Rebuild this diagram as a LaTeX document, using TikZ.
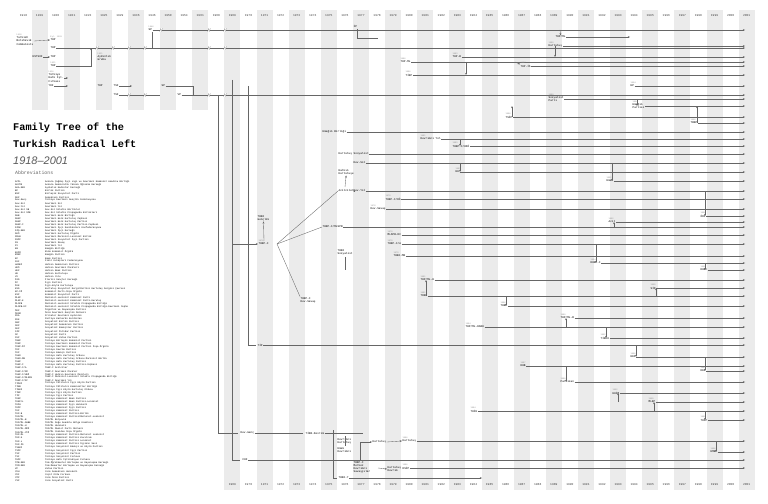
\documentclass[tikz,border=0pt]{standalone}
\usepackage{fontspec}
\setmainfont{Liberation Sans}
\setmonofont{Liberation Mono}
\usetikzlibrary{arrows.meta,positioning}

\definecolor{stripe}{gray}{0.92}
\definecolor{linecol}{gray}{0.40}
\definecolor{datecol}{gray}{0.55}

\newcommand{\yrfont}{\ttfamily\fontsize{3}{3}\selectfont}
\newcommand{\orgfont}{\ttfamily\fontsize{2.8}{3.1}\selectfont}
\newcommand{\datefont}{\ttfamily\fontsize{2.1}{2.2}\selectfont}
\newcommand{\abfont}{\ttfamily\fontsize{2.35}{2.4}\selectfont}

\tikzset{
  yr/.style={font=\yrfont, text=black!75, inner sep=0pt},
  org/.style={font=\orgfont, anchor=west, inner sep=0.4pt, align=left},
  dt/.style={font=\datefont, text=datecol, anchor=south west, inner sep=0.3pt},
  ln/.style={draw=linecol, line width=0.35pt},
  to/.style={ln, -{Stealth[length=2.2pt,width=1.8pt]}},
  ab/.style={font=\abfont, anchor=west, inner sep=0pt},
  brk/.pic={\fill[white] (-1.1,-1.8) rectangle (1.1,1.8);
    \draw[linecol, line width=0.3pt] (-1.3,1.6) -- (-0.2,-1.6) (0.2,1.6) -- (1.3,-1.6);}
}

\begin{document}
\begin{tikzpicture}[x=1bp,y=-1bp]
\useasboundingbox (0,0) rectangle (768,504);

% grey year columns
\foreach \i in {1,3,...,11}
  \fill[stripe] ({15.5+16.07*\i},10) rectangle +(16.07,100);
\foreach \i in {13,15,...,45}
  \fill[stripe] ({15.5+16.07*\i},10) rectangle +(16.07,480);

% years
\foreach \yr [count=\i from 0] in {1918,1919,1920,1921,1922,1925,1929,1936,1946,1950,1954,1961,1968,1969,1970,...,2001}
  \node[yr] at ({23.5+16.07*\i},16) {\yr};
\foreach \yr [count=\i from 13] in {1969,1970,...,2001}
  \node[yr] at ({23.5+16.07*\i},485) {\yr};

% title
\node[anchor=west, inner sep=0pt, font=\ttfamily\bfseries\fontsize{10.3}{12}\selectfont] (title1) at (13,128) {Family Tree of the};
\node[anchor=west, inner sep=0pt, font=\ttfamily\bfseries\fontsize{10.3}{12}\selectfont] (title2) at (13,144) {Turkish Radical Left};
\node[anchor=west, inner sep=0pt, font=\itshape\fontsize{11}{12}\selectfont, text=black!65] (title3) at (13,161) {1918--2001};
\node[anchor=west, inner sep=0pt, font=\ttfamily\fontsize{4.9}{5}\selectfont, text=black!60] (abbr) at (15,173) {Abbreviations};

% abbreviations
\foreach \a/\f [count=\k from 0] in {
 {ACİL}/{Ankara Çağdaş İşçi Ligi ve Devrimci Komünist Anadolu Birliği},
 {ADYÖD}/{Ankara Demokratik Yüksek Öğrenim Derneği},
 {AKA-DER}/{Aydınlık Kadınlar Derneği},
 {BP}/{Birlik Partisi},
 {BSP}/{Birleşik Sosyalist Parti},
 {DEP}/{Demokrasi Partisi},
 {Dev-Genç}/{Türkiye Devrimci Gençlik Federasyonu},
 {Dev-Sol}/{Devrimci Sol},
 {Dev-Yol}/{Devrimci Yol},
 {Dev-Sol SB}/{Dev-Sol Silahlı Birlikler},
 {Dev-Sol SPB}/{Dev-Sol Silahlı Propaganda Birlikleri},
 {DHB}/{Devrimci Halk Birliği},
 {DHKC}/{Devrimci Halk Kurtuluş Cephesi},
 {DHKP}/{Devrimci Halk Kurtuluş Partisi},
 {DHKP-C}/{Devrimci Halk Kurtuluş Partisi-Cephesi},
 {DİSK}/{Devrimci İşçi Sendikaları Konfederasyonu},
 {DİŞ-DER}/{Devrimci İşçi Derneği},
 {DKÖ}/{Devrimci Kurtuluş Örgütü},
 {DMLB}/{Devrimci Marksist-Leninist Birlik},
 {DSİP}/{Devrimci Sosyalist İşçi Partisi},
 {DS}/{Devrimci Savaş},
 {DY}/{Devrimci Yol},
 {EB}/{Emeğin Birliği},
 {EKİM}/{Ekim Komünist Örgütü},
 {EMEP}/{Emeğin Partisi},
 {EP}/{Emek Partisi},
 {FKF}/{Fikir Kulüpleri Federasyonu},
 {HADEP}/{Halkın Demokrasi Partisi},
 {HDÖ}/{Halkın Devrimci Öncüleri},
 {HEP}/{Halkın Emek Partisi},
 {HK}/{Halkın Kurtuluşu},
 {HY}/{Halkın Yolu},
 {İGD}/{İlerici Gençler Derneği},
 {İP}/{İşçi Partisi},
 {İKK}/{İşçi-Köylü Kurtuluşu},
 {KSD}/{Kurtuluş Sosyalist Dergi/Partisi Kurtuluş Dergisi Çevresi},
 {KP-İÖ}/{Komünist Parti-İnşa Örgütü},
 {KSP}/{Komünist Sosyalist Parti},
 {MLKP}/{Marksist-Leninist Komünist Parti},
 {MLKP-K}/{Marksist-Leninist Komünist Parti-Kuruluş},
 {MLSPB}/{Marksist-Leninist Silahlı Propaganda Birliği},
 {MLSPB-DC}/{Marksist-Leninist Silahlı Propaganda Birliği-Devrimci Cephe},
 {ÖDP}/{Özgürlük ve Dayanışma Partisi},
 {ÖDGM}/{Öncü Devrimci Gençlik Merkezi},
 {PDA}/{Proleter Devrimci Aydınlık},
 {PKK}/{Partiya Karkerên Kurdistan},
 {SBP}/{Sosyalist Birlik Partisi},
 {SDP}/{Sosyalist Demokrasi Partisi},
 {SEP}/{Sosyalist Emekçiler Partisi},
 {SİP}/{Sosyalist İktidar Partisi},
 {SP}/{Sosyalist Parti},
 {SVP}/{Sosyalist Vatan Partisi},
 {TBKP}/{Türkiye Birleşik Komünist Partisi},
 {TDKP}/{Türkiye Devrimci Komünist Partisi},
 {TDKP-İÖ}/{Türkiye Devrimci Komünist Partisi İnşa Örgütü},
 {TDP}/{Türkiye Devrim Partisi},
 {TEP}/{Türkiye Emekçi Partisi},
 {THKO}/{Türkiye Halk Kurtuluş Ordusu},
 {THKO-MB}/{Türkiye Halk Kurtuluş Ordusu Marksist Birlik},
 {THKP}/{Türkiye Halk Kurtuluş Partisi},
 {THKP-C}/{Türkiye Halk Kurtuluş Partisi-Cephesi},
 {THKP-C/A}/{THKP-C Acilciler},
 {THKP-C/DÖ}/{THKP-C Devrimci Öncüler},
 {THKP-C/HDÖ}/{THKP-C Halkın Devrimci Öncüleri},
 {THKP-C/MLSPB}/{THKP-C Marksist-Leninist Silahlı Propaganda Birliği},
 {THKP-C/DY}/{THKP-C Devrimci Yol},
 {TİİKP}/{Türkiye İhtilalci İşçi Köylü Partisi},
 {TİKB}/{Türkiye İhtilalci Komünistler Birliği},
 {TİKKO}/{Türkiye İşçi Köylü Kurtuluş Ordusu},
 {TİKP}/{Türkiye İşçi Köylü Partisi},
 {TİP}/{Türkiye İşçi Partisi},
 {TKEP}/{Türkiye Komünist Emek Partisi},
 {TKEP/L}/{Türkiye Komünist Emek Partisi-Leninist},
 {TKİH}/{Türkiye Komünist İşçi Hareketi},
 {TKİP}/{Türkiye Komünist İşçi Partisi},
 {TKP}/{Türkiye Komünist Partisi},
 {TKP-B}/{Türkiye Komünist Partisi-Birlik},
 {TKP/ML}/{Türkiye Komünist Partisi/Marksist-Leninist},
 {TKP/ML-B}/{TKP/ML Bolşevik},
 {TKP/ML-DABK}/{TKP/ML Doğu Anadolu Bölge Komitesi},
 {TKP/ML-H}/{TKP/ML Hareketi},
 {TKP/ML-MPM}/{TKP/ML Maoist Parti Merkezi},
 {TKP/ML-YİÖ}/{TKP/ML Yeniden İnşa Örgütü},
 {TKP-ML}/{Türkiye Komünist Partisi-Marksist Leninist},
 {TKP-K}/{Türkiye Komünist Partisi Kıvılcım},
 {TKP-L}/{Türkiye Komünist Partisi Leninist},
 {TKP-İS}/{Türkiye Komünist Partisi İşçinin Sesi},
 {TSEKP}/{Türkiye Sosyalist Emekçi ve Köylü Partisi},
 {TSİP}/{Türkiye Sosyalist İşçi Partisi},
 {TSP}/{Türkiye Sosyalist Partisi},
 {TSF}/{Türkiye Sosyalist Fırkası},
 {THİF}/{Türkiye Halk İştirakiyun Fırkası},
 {TÖB-DER}/{Tüm Öğretmenler Birleşme ve Dayanışma Derneği},
 {TÜM-DER}/{Tüm Memurlar Birleşme ve Dayanışma Derneği},
 {VP}/{Vatan Partisi},
 {YDH}/{Yeni Demokrasi Hareketi},
 {YDF}/{Yeşil Ordu Fırkası},
 {YÖP}/{Yeni Öncü Partisi},
 {YSP}/{Yeni Sosyalist Parti}}
{
  \node[ab] at (15,{182+3.05*\k}) {\a};
  \node[ab] at (45,{182+3.05*\k}) {\f};
}

% ---- early years ----
\node[org] (turk) at (16,41) {Turkish\\Bolshevik\\Communists};
\node[dt] at (turk.north west) {1918};
\node[org] (tkpa) at (50,40) {TKP};
\node[dt] at (tkpa.north west) {Eyl. 1920};
\draw[to] (turk.east) -- (tkpa.west);
\node[org] (tkpb) at (50,48) {TKP};
\node[org] (estsof) at (32,57) {ESTSOF};
\node[org] (tkpc) at (50,57) {TKP};
\draw[to] (estsof) -- (tkpc);
\node[org] (tkpd) at (50,66) {TKP};
\node[dt] at (tkpd.north west) {1921};
\coordinate (tkpj) at (91,48);
\draw[to] (tkpd.east) -- (91,66) -- (tkpj);
\draw[to] (tkpb.east) -- (745,48);
\foreach \x in {97,113,129,145,209,225} \pic at (\x,48) {brk};
\node[org] (aydin) at (97,58) {Aydınlık\\Grubu};
\node[dt] at (aydin.north west) {1921};
\node[org] (tsp) at (148,30) {SP};
\node[dt] at (tsp.north west) {1946};
\draw[to] (tsp.east) -- (745,30);
\draw[ln] (152,32) -- (152,48);
\foreach \x in {161,209,225} \pic at (\x,30) {brk};

\node[org] (thif) at (48,78) {Türkiye\\Halk İşt.\\Fırkası};
\node[dt] at (thif.north west) {1920};
\draw[to] (thif.east) -- (68,78);
\node[org] (ydf) at (48,86) {YDF};
\draw[to] (ydf.east) -- (68,86);
\node[org] (tkpe) at (97,86) {TKP};
\node[org] (tsf) at (113,86) {TSF};
\draw[to] (tsf.east) -- (132,86);
\node[org] (tsf2) at (113,95) {TSF};
\draw[ln] (tsf2.east) -- (160,95);
\foreach \x in {129,145} \pic at (\x,95) {brk};
\node[org] (sp46) at (161,86) {SP};
\draw[ln] (sp46.east) -- (193,86) -- (193,95);
\node[org] (vp) at (177,95) {VP};
\draw[to] (vp.east) -- (745,95);
\foreach \x in {209,225} \pic at (\x,95) {brk};

% ---- 1960s trunk ----
\draw[ln] (218,95) -- (218,433) -- (238,433);
\draw[ln] (232,80) -- (232,460) -- (240,460);
\draw[ln] (248,86) -- (248,345) -- (256,345);
\node[org] (tip) at (257,345) {TİP};
\draw[to] (tip.east) -- (745,345);
\node[org] (dgenc) at (240,433) {Dev-Genç};
\draw[ln] (dgenc.east) -- (303,433);
\node[org] (tikb) at (305,433) {TİKB-Devrim};
\draw[ln] (tikb.east) -- (363,433);
\node[org] (fkf) at (242,460) {FKF};
\draw[to] (fkf.east) -- (745,460);

\node[org] (thkpc) at (258,244) {THKP-C};
\node[dt] at (thkpc.north west) {1970};
\draw[to] (232,244) -- (thkpc.west);
\node[org] (thko) at (257,218) {THKO\\Gençlik};
\draw[to] (264,241) -- (thko.south);
\coordinate (fan) at (277,244);
\node[org] (acil) at (338,191) {Acilciler};
\node[org] (mlspb) at (322,227) {THKP-C/MLSPB};
\node[org] (dsav) at (300,300) {THKP-C\\Dev-Savaş};
\draw[ln] (fan) -- (acil.west);
\draw[ln] (fan) -- (mlspb.west);
\draw[ln] (fan) -- (dsav.north west);
\draw[to] (mlspb.east) -- (745,227);
\node[org] (dyol) at (353,191) {Dev-Yol};
\draw[to] (acil) -- (dyol);
\draw[to] (dyol.east) -- (745,191);
\node[org] (hk) at (338,172) {Halkın\\Kurtuluşu};
\draw[to] (345,187) -- (hk.south);
\node[org] (ks) at (338,154) {Kurtuluş Sosyalist};
\draw[to] (ks.east) -- (745,154);
\node[org] (dsol) at (353,163) {Dev-Sol};
\draw[to] (dsol.east) -- (745,163);
\node[org] (emek) at (322,132) {Emeğin Birliği};
\draw[to] (emek.east) -- (745,132);
\node[org] (thkos) at (337,252) {THKO\\Sosyalist};
\draw[ln] (345,257) -- (345,270);

% ---- 1975-2001 ----
\foreach \n/\x/\y/\t/\d in {
  tkpml/400/62/{TKP-ML}/1980,
  kurt/548/46/{Kurtuluş}/1989,
  tkpbb/452/57/{TKP-B}/1983,
  tkpis/520/66/{TKP-İS}/1987,
  tikp/405/75/{TİKP}/1980,
  ep/630/86/{EP}/1994,
  sparti/548/99/{Sosyalist\\Parti}/1989,
  emp/632/106/{Emeğin\\Partisi}/1994,
  tsip/505/117/{TSİP}/1986,
  tbkp/690/123/{TBKP}/1998,
  dy/420/139/{Devrimci Yol}/1981,
  hdo/452/146/{THKP-C/HDÖ}/1983,
  hkb/455/172/{HK}/1983,
  emk/606/181/{Emek}/1992,
  do/385/199/{THKP-C/DÖ}/1979,
  dsv/370/209/{Dev-Savaş}/1978,
  odp/700/216/{ÖDP}/1996,
  acl/608/222/{Acil}/1992,
  dc/387/235/{MLSPB-DC}/1979,
  thka/387/244/{THKP-C/A}/1979,
  thkomb/393/256/{THKO-MB}/1979,
  dhkpc/590/263/{DHKP-C}/1994,
  dhkc/700/270/{DHKC}/1998,
  mlh/420/280/{TKP/ML-H}/1981,
  sip/650/288/{SİP}/1995,
  tdkp/420/296/{TDKP}/1981,
  tkep/500/306/{TKEP}/1986,
  mlb/560/318/{TKP/ML-B}/1989,
  dabk/465/327/{TKP/ML-DABK}/1984,
  tikko/600/338/{TİKKO}/1992,
  hep/630/357/{HEP}/1990,
  dhb/520/366/{DHB}/1987,
  dep/700/371/{DEP}/1993,
  part/560/382/{Partizan}/1989,
  ekim/612/393/{EKİM}/1992,
  mlkp/648/402/{MLKP}/1995,
  tkih/470/411/{TKİH}/1984,
  tkip/700/420/{TKİP}/1998,
  kurtb/402/441/{Kurtuluş}/1980,
  emep/710/452/{EMEP}/1996,
  dsip/402/468/{DSİP}/1980}
{
  \node[org] (\n) at (\x,\y) {\t};
  \node[dt] at (\n.north west) {\d};
  \draw[to] (\n.east) -- (745,\y);
}

% smaller pieces
\node[org] (ip) at (353,26) {İP};
\draw[ln] (357,29) -- (357,38) -- (378,38);
\node[org] (tml) at (555,37) {TKP/ML};
\draw[to] (tml.east) -- (630,37);
\draw[to] (560,30) -- (tml.north);
\node[org] (dk) at (337,441) {Devrimci\\Kurtuluş};
\node[org] (ed) at (337,450) {Emek\\Devrimci};
\draw[ln] (345,436) -- (345,446);
\node[org] (mds) at (353,467) {THKP-C\\Merkez\\Devrimci\\Savaşçılar};
\draw[ln] (360,442) -- (360,461);
\node[org] (kurtc) at (372,442) {Kurtuluş};
\draw[to] (360,442) -- (kurtc.west);
\draw[to] (kurtc.east) -- (kurtb.west);
\draw[ln] (333,430) -- (333,478) -- (337,478);
\node[org] (thkoy) at (338,478) {THKO-Y};
\draw[to] (thkoy.east) -- (482,478);
\node[org] (kdv) at (387,469) {Kurtuluş\\Devrim};
\draw[to] (378,468) -- (kdv.west);

% vertical links
\draw[to] (515,62) -- (tkpis.north west);
\draw[to] (555,46) -- (555,57);
\draw[to] (466,62) -- (466,75);
\draw[to] (512,117) -- (512,106);
\draw[to] (637,99) -- (637,106);
\draw[to] (697,123) -- (697,106);
\draw[to] (460,139) -- (460,146);
\draw[to] (460,163) -- (460,172);
\draw[to] (612,163) -- (612,181);
\draw[to] (705,191) -- (705,216);
\draw[to] (614,227) -- (614,222);
\draw[to] (596,244) -- (596,263);
\draw[to] (705,263) -- (705,270);
\draw[to] (426,296) -- (426,280);
\draw[to] (656,296) -- (656,288);
\draw[to] (506,296) -- (506,306);
\draw[to] (566,327) -- (566,318);
\draw[to] (606,327) -- (606,338);
\draw[to] (636,345) -- (636,357);
\draw[to] (705,357) -- (705,371);
\draw[to] (566,366) -- (566,382);
\draw[to] (618,402) -- (618,393);
\draw[to] (654,411) -- (654,402);
\draw[to] (705,411) -- (705,420);
\draw[to] (716,441) -- (716,452);

\end{tikzpicture}
\end{document}
